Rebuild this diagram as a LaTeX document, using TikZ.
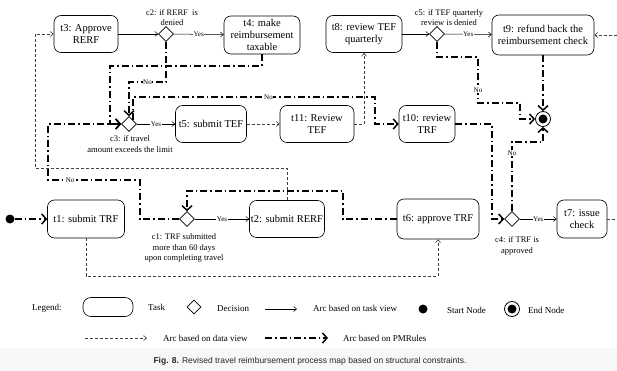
\documentclass[tikz,border=0pt]{standalone}
\usepackage{fontspec}
\setmainfont{Liberation Serif}
\newfontfamily\capfont{Liberation Sans}
\usetikzlibrary{shapes.geometric, positioning, arrows.meta, calc}
\tikzset{
  task/.style={
    rectangle, draw, rounded corners=7pt, line width=0.6pt,
    % node options
    align=center, inner sep=1pt, font=\fontsize{10.5}{12}\selectfont
  },
  decision/.style={
    diamond, draw, line width=0.6pt, minimum width=15pt, minimum height=15pt, inner sep=0pt
  },
  cond/.style={align=center, inner sep=0pt, font=\fontsize{8.5}{10.5}\selectfont},
  lbl/.style={fill=white, inner sep=0.6pt, font=\fontsize{7}{8}\selectfont},
  startnode/.style={circle, fill, minimum size=9pt, inner sep=0pt},
  endnode/.style={
    circle, draw, line width=0.8pt, minimum size=15pt, inner sep=0pt,
    path picture={\fill (path picture bounding box.center) circle (4.5pt);}
  },
  taskarc/.style={-{Straight Barb[length=3pt,width=5pt]}, line width=0.5pt},
  dataarc/.style={
    -{Straight Barb[length=3pt,width=5pt]}, line width=0.6pt, black!75,
    dash pattern=on 3pt off 2pt
  },
  rulearc/.style={
    -{Straight Barb[length=4.5pt,width=10pt]}, line width=1.5pt,
    dash pattern=on 7pt off 3pt on 1.5pt off 3pt
  },
  legtext/.style={anchor=west, inner sep=0pt, font=\fontsize{9}{10}\selectfont}
}
\begin{document}
\begin{tikzpicture}[x=1pt, y=-1pt]
  \useasboundingbox (0,0) rectangle (617,371);
  \fill[white] (0,0) rectangle (617,371);
  \fill[black!3] (0,348) rectangle (617,371);
  % tasks and decisions
  \node[task, minimum width=64pt, minimum height=37pt] (t3) at (86,34) {t3: Approve\\RERF};
  \node[decision] (c2) at (166,34) {};
  \node[task, minimum width=76pt, minimum height=38pt] (t4) at (262,35) {t4: make\\reimbursement\\taxable};
  \node[task, minimum width=76pt, minimum height=37pt] (t8) at (364,34) {t8: review TEF\\quarterly};
  \node[decision] (c5) at (437,34) {};
  \node[task, minimum width=102pt, minimum height=40pt] (t9) at (543,35) {t9: refund back the\\reimbursement check};
  \node[decision] (c3) at (129,124) {};
  \node[task, minimum width=71pt, minimum height=37pt] (t5) at (211,124) {t5: submit TEF};
  \node[task, minimum width=74pt, minimum height=37pt] (t11) at (317,124) {t11: Review\\TEF};
  \node[task, minimum width=56pt, minimum height=37pt] (t10) at (427,124) {t10: review\\TRF};
  \node[endnode] (end) at (543,119) {};
  \node[startnode] (start) at (10,219) {};
  \node[task, minimum width=77pt, minimum height=38pt] (t1) at (86,219) {t1: submit TRF};
  \node[decision] (c1) at (187,219) {};
  \node[task, minimum width=75pt, minimum height=37pt] (t2) at (287,219) {t2: submit RERF};
  \node[task, minimum width=82pt, minimum height=40pt] (t6) at (438,219) {t6: approve TRF};
  \node[decision] (c4) at (512,219) {};
  \node[task, minimum width=50pt, minimum height=38pt] (t7) at (582,219) {t7: issue\\check};
  % conditions
  \node[cond, above=0pt of c2, xshift=6pt] (c2txt) {c2: if RERF\ \ is\\denied};
  \node[cond, above=0pt of c5, xshift=12pt] (c5txt) {c5: if TEF quarterly\\review is denied};
  \node[cond, below=4pt of c3, xshift=1pt] (c3txt) {c3: if travel\\amount exceeds the limit};
  \node[cond, below=7pt of c1, xshift=-3pt] (c1txt) {c1: TRF submitted\\more than 60 days\\upon completing travel};
  \node[cond, below=10pt of c4, xshift=5pt] (c4txt) {c4: if TRF is\\approved};
  % bend points
  \coordinate (c2no) at (129,82);
  \coordinate (t4c3) at (110,66);
  \coordinate (c1no) at (140,180);
  \coordinate (c1up) at (48,180);
  \coordinate (c3no) at (375,97);
  \coordinate (c5a) at (478,57);
  \coordinate (c5b) at (520,103);
  \coordinate (c4no) at (543,142);
  \coordinate (t10c4) at (492,124);
  \coordinate (t6c1) at (343,191);
  \coordinate (t2t3) at (35,168);
  \coordinate (t1t6) at (86,276);
  \coordinate (t7t9) at (625,219);
  % task view
  \draw[taskarc] (t3) -- (c2);
  \draw[taskarc] (c2) -- node[lbl]{Yes} (t4);
  \draw[taskarc] (t8) -- (c5);
  \draw[taskarc] (c5) -- node[lbl]{Yes} (t9);
  \draw[taskarc] (c3) -- node[lbl]{Yes} (t5);
  \draw[taskarc] (c1) -- node[lbl]{Yes} (t2);
  \draw[taskarc] (c4) -- node[lbl]{Yes} (t7);
  % data view
  \draw[dataarc] (t5) -- (t11);
  \draw[dataarc] (t11.east) -| (t8.south);
  \draw[dataarc] (t2.north) |- (t2t3) |- (t3.west);
  \draw[dataarc] (t1.south) -- (t1t6) -| (t6.south);
  \draw[dataarc] (t7.east) -- (t7t9) |- (t9.east);
  % PMRules
  \draw[rulearc] (start) -- (t1.west);
  \draw[rulearc] (c2.south) |- node[lbl, pos=0.75]{No} (c2no) -- (c3.north);
  \draw[rulearc] (t4.south) |- (t4c3) |- (c3.west);
  \draw[rulearc] (c1.west) -| (c1no) -- node[lbl, pos=0.76]{No} (c1up) |- (c3.west);
  \draw[rulearc] (c3.north east) |- node[lbl, pos=0.78]{No} (c3no) |- (t10.west);
  \draw[rulearc] (c5.south) |- (c5a) -- node[lbl, pos=0.72]{No} (c5a |- c5b) -- (c5b) |- (end.west);
  \draw[rulearc] (t9.south) -- (end.north);
  \draw[rulearc] (c4.north) |- node[lbl, pos=0.42]{No} (c4no) -- (end.south);
  \draw[rulearc] (t10.east) -- (t10c4) |- (c4.west);
  \draw[rulearc] (t6.west) -| (t6c1) -| (c1.north);
  % legend
  \node[legtext] (legtitle) at (32,308) {Legend:};
  \node[task, minimum width=50pt, minimum height=19pt, rounded corners=8pt] (legtask) at (108,307) {};
  \node[legtext] (legtasktxt) at (148,307) {Task};
  \node[decision, minimum width=14pt, minimum height=14pt] (legdec) at (194,307) {};
  \node[legtext] (legdectxt) at (217,309) {Decision};
  \coordinate (legta) at (265,309);
  \coordinate (legtb) at (297,309);
  \draw[taskarc] (legta) -- (legtb);
  \node[legtext] (legtaskarc) at (313,308) {Arc based on task view};
  \node[startnode] (legstart) at (423,309) {};
  \node[legtext] (legstarttxt) at (447,310) {Start Node};
  \node[endnode] (legend) at (512,309) {};
  \node[legtext] (legendtxt) at (528,310) {End Node};
  \coordinate (legda) at (85,338);
  \coordinate (legdb) at (147,338);
  \draw[dataarc] (legda) -- (legdb);
  \node[legtext] (legdataarc) at (163,338) {Arc based on data view};
  \coordinate (legra) at (265,338);
  \coordinate (legrb) at (328,338);
  \draw[rulearc] (legra) -- (legrb);
  \node[legtext] (legrulearc) at (343,338) {Arc based on PMRules};
  \node[font=\capfont\fontsize{8.5}{10}\selectfont, text=black!85] (caption) at (310,361)
    {\textbf{Fig. 8.} Revised travel reimbursement process map based on structural constraints.};
\end{tikzpicture}
\end{document}
